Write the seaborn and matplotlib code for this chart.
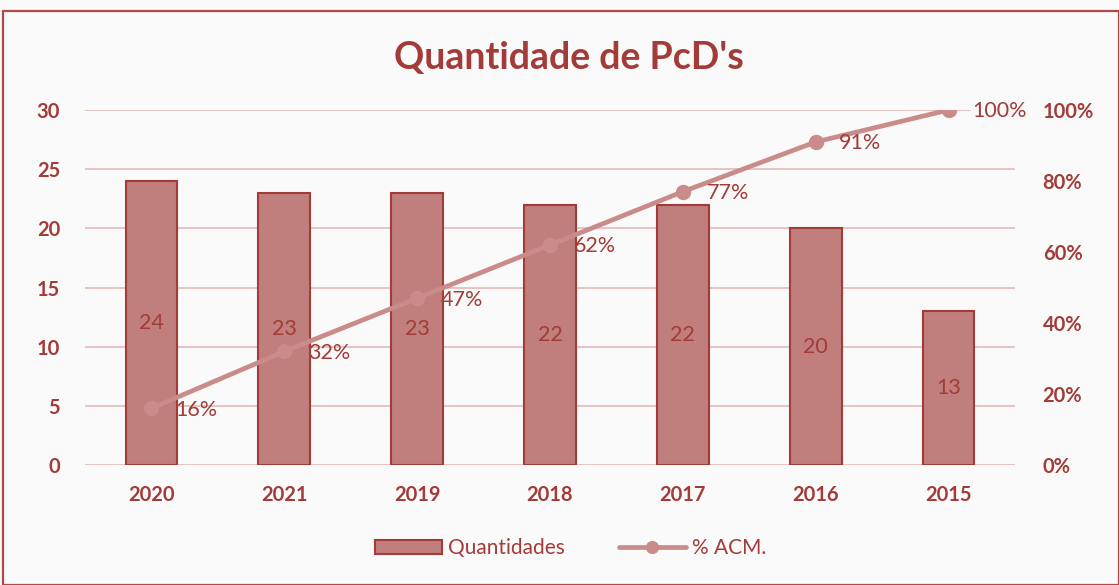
import matplotlib
matplotlib.use("Agg")
import matplotlib.pyplot as plt
import seaborn as sns
import pandas as pd
from matplotlib.patches import Rectangle, Patch
from matplotlib.lines import Line2D

anos = ["2020", "2021", "2019", "2018", "2017", "2016", "2015"]
quantidades = [24, 23, 23, 22, 22, 20, 13]
pct_acm = [16, 32, 47, 62, 77, 91, 100]
left_ticks = [0, 5, 10, 15, 20, 25, 30]
right_ticks = [0, 20, 40, 60, 80, 100]

DARK = "#a33b38"
BAR = "#c07e7c"
LINE = "#c98c8a"
GRID = "#e3bfbe"
BG = "#fafafa"

sns.set_theme(style="white")
plt.rcParams["font.family"] = ["Lato", "DejaVu Sans"]

fig = plt.figure(figsize=(11.19, 5.85), dpi=100, facecolor=BG)
ax = fig.add_axes([0.076, 0.205, 0.831, 0.607])
ax.set_facecolor(BG)

df = pd.DataFrame({"ano": anos, "q": quantidades, "p": pct_acm})
sns.barplot(data=df, x="ano", y="q", order=anos, color=BAR, width=0.39,
            edgecolor=DARK, linewidth=1.5, saturation=1, ax=ax, zorder=2)
ax.set_ylim(0, 30)
ax.set_xlim(-0.5, 6.5)
ax.set_yticks(left_ticks)
ax.yaxis.grid(True, color=GRID, linewidth=1.3, zorder=0)
ax.set_axisbelow(True)
for s in ax.spines.values():
    s.set_visible(False)
ax.set_xlabel("")
ax.set_ylabel("")
ax.tick_params(axis="both", length=0, colors=DARK, labelsize=14.5)
ax.tick_params(axis="y", pad=18)
ax.tick_params(axis="x", pad=14)
for t in ax.get_xticklabels() + ax.get_yticklabels():
    t.set_fontweight("bold")
    t.set_color(DARK)

for i, v in enumerate(quantidades):
    ax.text(i, v / 2, str(v), ha="center", va="center", color=DARK, fontsize=15.5, zorder=3)

ax2 = ax.twinx()
sns.pointplot(data=df, x="ano", y="p", order=anos, color=LINE, ax=ax2,
              markers="o", markersize=8.5, linewidth=3.4, errorbar=None)
ax2.set_ylim(0, 100)
ax2.set_xlim(-0.5, 6.5)
ax2.set_yticks(right_ticks)
ax2.set_yticklabels([f"{t}%" for t in right_ticks])
for s in ax2.spines.values():
    s.set_visible(False)
ax2.set_ylabel("")
ax2.tick_params(axis="y", length=0, colors=DARK, labelsize=14.5, pad=20)
for t in ax2.get_yticklabels():
    t.set_fontweight("bold")
    t.set_color(DARK)

for i, v in enumerate(pct_acm):
    ax2.annotate(f"{v}%", (i, v), xytext=(17, -1), textcoords="offset points",
                 ha="left", va="center", color=DARK, fontsize=15.5,
                 bbox=dict(boxstyle="square,pad=0.05", fc=BG, ec="none", alpha=0.0 if v < 100 else 1))

fig.suptitle("Quantidade de PcD's", x=0.508, y=0.93, fontsize=27, fontweight="bold", color=DARK)

handles = [Patch(facecolor=BAR, edgecolor=DARK, linewidth=1.5),
           Line2D([0], [0], color=LINE, linewidth=3.4, marker="o", markersize=8.5)]
leg = fig.legend(handles, ["Quantidades", "% ACM."], loc="center", bbox_to_anchor=(0.51, 0.063),
                 ncol=2, frameon=False, fontsize=15, handlelength=3.2, columnspacing=2.6,
                 handletextpad=0.3)
for t in leg.get_texts():
    t.set_color(DARK)

fig.patches.append(Rectangle((0.003, 0.0), 0.997, 0.982, transform=fig.transFigure,
                             fill=False, edgecolor="#b04a48", linewidth=1.6))

fig.savefig("out.png", dpi=100, facecolor=BG)
